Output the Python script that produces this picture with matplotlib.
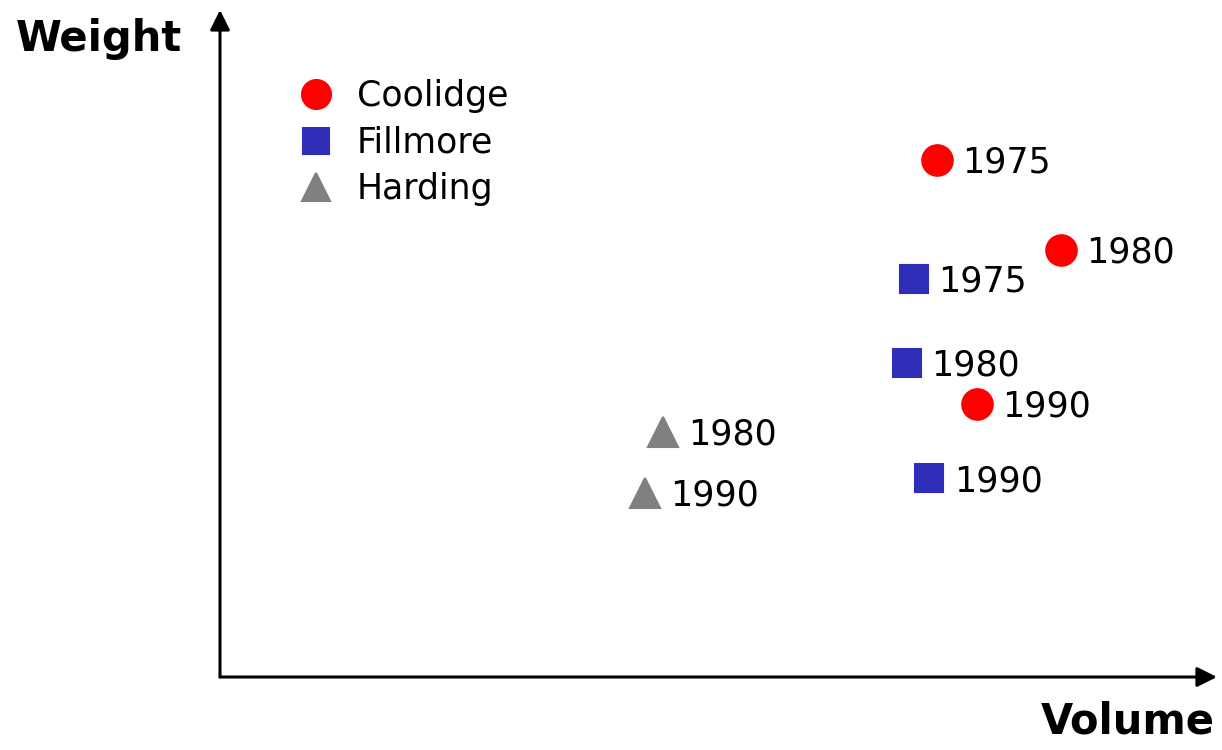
import matplotlib.pyplot as plt

# series values (arbitrary units)
coolidge_x = [72.1, 84.5, 76.1]
coolidge_y = [77.5, 64.0, 40.9]
coolidge_years = ['1975', '1980', '1990']

fillmore_x = [69.7, 69.0, 71.3]
fillmore_y = [59.7, 47.1, 29.8]
fillmore_years = ['1975', '1980', '1990']

harding_x = [44.5, 42.7]
harding_y = [36.7, 27.6]
harding_years = ['1980', '1990']

series = [
    ('Coolidge', coolidge_x, coolidge_y, coolidge_years, 'o', '#ff0000', 22),
    ('Fillmore', fillmore_x, fillmore_y, fillmore_years, 's', '#2e2eb8', 20),
    ('Harding', harding_x, harding_y, harding_years, '^', '#808080', 21),
]

plt.rcParams['font.family'] = 'DejaVu Sans'

fig = plt.figure(figsize=(12.22, 7.5), dpi=100)
ax = fig.add_axes([220 / 1222, 1 - 677 / 750, 995 / 1222, 667 / 750])
ax.set_xlim(0, 100)
ax.set_ylim(0, 100)
for s in ax.spines.values():
    s.set_visible(False)
ax.set_xticks([])
ax.set_yticks([])

for name, xs, ys, years, marker, colour, ms in series:
    ax.plot(xs, ys, linestyle='none', marker=marker, markersize=ms,
            color=colour, markeredgecolor=colour, markeredgewidth=1.5,
            label=name, clip_on=False)
    for x, y, yr in zip(xs, ys, years):
        ax.annotate(yr, (x, y), xytext=(18, -2), textcoords='offset points',
                    va='center', ha='left', fontsize=25)

# axis arrows
arrow = dict(arrowstyle='-|>', lw=2.2, color='black', mutation_scale=30,
             shrinkA=0, shrinkB=0)
ax.annotate('', xy=(1.002, 0), xytext=(0, 0), xycoords='axes fraction',
            arrowprops=arrow, annotation_clip=False)
ax.annotate('', xy=(0, 1.0), xytext=(0, 0), xycoords='axes fraction',
            arrowprops=arrow, annotation_clip=False)

fig.text(99 / 1222, 1 - 39 / 750, 'Weight', fontsize=30, fontweight='bold',
         ha='center', va='center')
fig.text(1128 / 1222, 1 - 722 / 750, 'Volume', fontsize=30, fontweight='bold',
         ha='center', va='center')

ax.legend(loc='upper left', bbox_to_anchor=(0.065, 0.917), frameon=False,
          fontsize=25, handlelength=1.0, handletextpad=0.67, labelspacing=0.36,
          borderaxespad=0, numpoints=1, markerscale=0.95)

fig.savefig('out.png', dpi=100)
